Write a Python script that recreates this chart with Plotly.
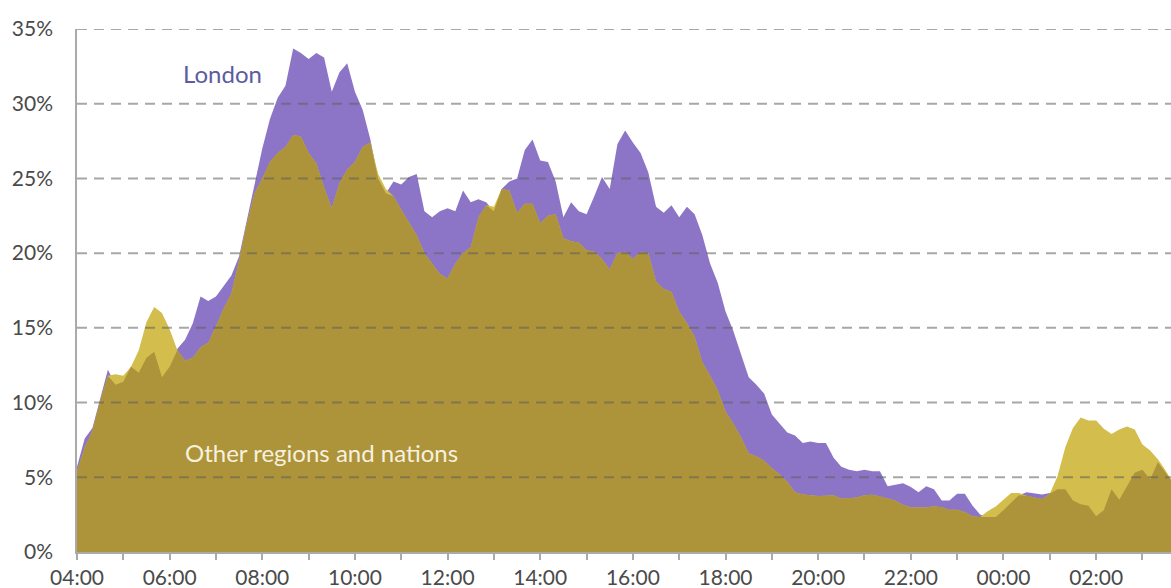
import plotly.graph_objects as go
import pandas as pd

# 10-minute intervals starting at 04:00
start_time = "2024-01-01 04:00"
step = "10min"

london = [
    5.7, 7.6, 8.3, 10.3, 12.2, 11.2, 11.4, 12.4, 12.0, 13.0,
    13.4, 11.7, 12.4, 13.6, 14.2, 15.3, 17.1, 16.8, 17.1, 17.8,
    18.5, 19.8, 22.2, 24.6, 27.0, 29.0, 30.4, 31.2, 33.7, 33.4,
    33.0, 33.4, 33.1, 30.8, 32.1, 32.7, 30.8, 29.6, 27.6, 25.0,
    24.0, 24.8, 24.6, 25.1, 25.3, 22.8, 22.4, 22.8, 23.0, 22.8,
    24.2, 23.4, 23.6, 23.4, 22.8, 24.3, 24.8, 25.0, 26.9, 27.6,
    26.2, 26.1, 24.8, 22.4, 23.4, 22.8, 22.6, 23.8, 25.1, 24.3,
    27.3, 28.2, 27.4, 26.7, 25.4, 23.1, 22.7, 23.2, 22.4, 23.1,
    22.6, 21.2, 19.3, 18.0, 16.1, 14.8, 13.2, 11.7, 11.2, 10.6,
    9.2, 8.6, 8.0, 7.8, 7.3, 7.4, 7.3, 7.3, 6.3, 5.7,
    5.5, 5.4, 5.5, 5.4, 5.4, 4.4, 4.5, 4.6, 4.35, 4.0,
    4.4, 4.2, 3.45, 3.45, 3.9, 3.9, 3.1, 2.5, 2.35, 2.35,
    2.8, 3.3, 3.8, 4.0, 3.9, 3.85, 3.95, 4.2, 4.2, 3.45,
    3.2, 3.1, 2.4, 2.8, 4.2, 3.5, 4.4, 5.3, 5.5, 4.85,
    6.0, 5.3, 4.6,
]

other = [
    5.4, 7.0, 8.1, 10.1, 11.8, 11.9, 11.8, 12.4, 13.5, 15.4,
    16.4, 16.0, 14.9, 13.5, 12.8, 13.0, 13.7, 14.0, 15.1, 16.3,
    17.3, 19.5, 22.0, 24.0, 25.0, 26.1, 26.7, 27.1, 27.9, 27.8,
    26.7, 26.0, 24.4, 23.0, 24.7, 25.6, 26.1, 27.1, 27.4, 25.3,
    24.3, 23.8, 22.9, 22.0, 21.2, 20.0, 19.3, 18.6, 18.3, 19.3,
    20.0, 20.4, 22.4, 23.2, 23.1, 24.3, 24.2, 22.7, 23.3, 23.3,
    22.0, 22.5, 22.6, 21.0, 20.8, 20.7, 20.2, 20.1, 19.6, 18.9,
    20.0, 20.1, 19.6, 20.1, 20.0, 18.1, 17.6, 17.4, 16.1, 15.3,
    14.4, 12.7, 11.8, 10.8, 9.4, 8.6, 7.7, 6.6, 6.4, 6.1,
    5.6, 5.2, 4.7, 4.0, 3.85, 3.8, 3.75, 3.77, 3.8, 3.56,
    3.63, 3.65, 3.8, 3.83, 3.72, 3.56, 3.45, 3.14, 3.0, 2.98,
    2.98, 3.07, 3.0, 2.83, 2.83, 2.67, 2.4, 2.35, 2.75, 3.05,
    3.5, 3.95, 3.95, 3.77, 3.65, 3.54, 3.9, 5.07, 7.0, 8.3,
    9.0, 8.8, 8.8, 8.25, 7.9, 8.2, 8.4, 8.2, 7.2, 6.8,
    6.2, 5.45, 4.6,
]

y_ticks = [0, 5, 10, 15, 20, 25, 30, 35]
y_tick_labels = ["0%", "5%", "10%", "15%", "20%", "25%", "30%", "35%"]

times = pd.date_range(start=start_time, periods=len(london), freq=step)
overlap = [min(a, b) for a, b in zip(london, other)]

PURPLE = "#8c75c6"
YELLOW = "#d3bd4c"
OLIVE = "#ad933a"
FONT = "Lato"

fig = go.Figure()
fig.add_trace(go.Scatter(x=times, y=london, mode="lines", fill="tozeroy",
                         line=dict(width=0, color=PURPLE), fillcolor=PURPLE,
                         name="London", hoverinfo="skip"))
fig.add_trace(go.Scatter(x=times, y=other, mode="lines", fill="tozeroy",
                         line=dict(width=0, color=YELLOW), fillcolor=YELLOW,
                         name="Other regions and nations", hoverinfo="skip"))
fig.add_trace(go.Scatter(x=times, y=overlap, mode="lines", fill="tozeroy",
                         line=dict(width=0, color=OLIVE), fillcolor=OLIVE,
                         name="Both", hoverinfo="skip"))

# dashed gridlines drawn above the areas
for v in y_ticks[1:]:
    fig.add_shape(type="line", xref="paper", yref="y", x0=0, x1=1, y0=v, y1=v,
                  line=dict(color="rgba(95,95,95,0.55)", width=2, dash="10px,7px"),
                  layer="above")

fig.add_annotation(x="2024-01-01 07:08", y=32.0, text="London", showarrow=False,
                   xanchor="center", yanchor="middle",
                   font=dict(family=FONT, size=24, color="#5d5c9f"))
fig.add_annotation(x="2024-01-01 06:17:30", y=6.65, text="Other regions and nations",
                   showarrow=False, xanchor="left", yanchor="middle",
                   font=dict(family=FONT, size=24, color="#f6f1de"))

fig.update_layout(
    width=1171, height=588,
    margin=dict(l=77, r=0, t=29, b=36),
    paper_bgcolor="white", plot_bgcolor="white",
    showlegend=False,
    font=dict(family=FONT, size=21, color="#4a4a4a"),
)
fig.update_xaxes(
    type="date", automargin=False,
    range=["2024-01-01 04:00", "2024-01-02 03:37"],
    dtick=2 * 3600000, tick0="2024-01-01 04:00", tickformat="%H:%M",
    ticks="outside", ticklen=6, tickwidth=1.5, tickcolor="#aaaaaa",
    minor=dict(dtick=3600000, ticks="outside", ticklen=6, tickwidth=1.5,
               tickcolor="#aaaaaa", showgrid=False),
    showgrid=False, zeroline=False,
    showline=True, linecolor="#aaaaaa", linewidth=1.5,
    tickfont=dict(family=FONT, size=21, color="#4a4a4a"),
)
fig.update_yaxes(
    automargin=False,
    range=[0, 35], tickvals=y_ticks, ticktext=y_tick_labels,
    ticks="", showgrid=False, zeroline=False,
    showline=True, linecolor="#aaaaaa", linewidth=1.5,
    ticklabelstandoff=18,
    tickfont=dict(family=FONT, size=21, color="#4a4a4a"),
)

fig.write_html(
    "out.html",
    config={"displayModeBar": False},
    post_script="document.body.style.margin='0';document.body.style.overflow='hidden';",
)
